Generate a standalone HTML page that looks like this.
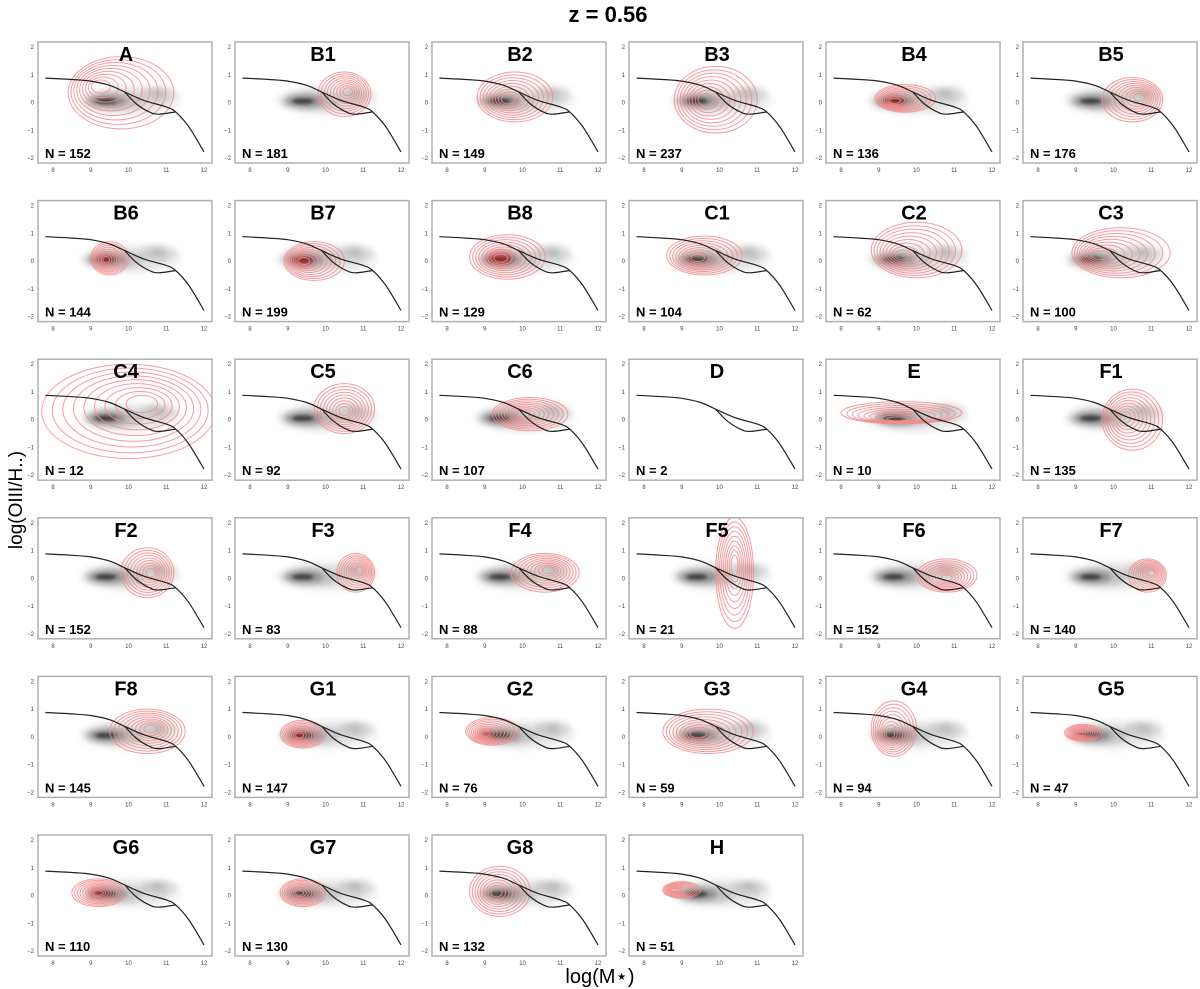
<!DOCTYPE html>
<html><head><meta charset="utf-8">
<style>
html,body{margin:0;padding:0;background:#fff;}
svg{display:block;font-family:"Liberation Sans",Arial,sans-serif;}
</style></head>
<body>
<svg id="chart" width="1200" height="989" viewBox="0 0 1200 989" xmlns="http://www.w3.org/2000/svg">
<defs>
<filter id="blur" x="-50%" y="-50%" width="200%" height="200%"><feGaussianBlur stdDeviation="3"/></filter>
<filter id="blur2" x="-50%" y="-50%" width="200%" height="200%"><feGaussianBlur stdDeviation="1.5"/></filter>
</defs>
<text x="608" y="22" font-size="22" font-weight="bold" text-anchor="middle">z = 0.56</text>
<text x="0" y="0" font-size="19" text-anchor="middle" transform="translate(22,500) rotate(-90)">log(OIII/H..)</text>
<text x="600" y="983" font-size="20" text-anchor="middle">log(M⋆)</text>
<g id="panels"></g>
</svg>
<script>
const labels = ["A","B1","B2","B3","B4","B5","B6","B7","B8","C1","C2","C3","C4","C5","C6","D","E","F1","F2","F3","F4","F5","F6","F7","F8","G1","G2","G3","G4","G5","G6","G7","G8","H"];
const counts = [152,181,149,237,136,176,144,199,129,104,62,100,12,92,107,2,10,135,152,83,88,21,152,140,145,147,76,59,94,47,110,130,132,51];
const outerX = [9.8,10.5,9.8,9.9,9.7,10.5,9.5,9.7,9.6,9.6,10.0,10.2,10.0,10.5,10.2,0,9.6,10.5,10.5,10.8,10.6,10.4,10.8,10.9,10.5,9.4,9.2,9.7,9.4,9.2,9.2,9.4,9.4,9.0];
const outerY = [0.35,0.3,0.2,0.1,0.15,0.1,0.1,0.0,0.15,0.2,0.4,0.3,0.3,0.4,0.2,0,0.25,0.0,0.2,0.2,0.2,0.2,0.1,0.1,0.2,0.1,0.2,0.2,0.3,0.15,0.1,0.1,0.15,0.2];
const outerRX = [1.4,0.7,1.0,1.1,0.8,0.8,0.5,0.8,1.0,1.0,1.2,1.3,2.3,0.8,1.0,0,1.6,0.8,0.7,0.5,0.9,0.5,0.8,0.5,1.0,0.6,0.7,1.2,0.6,0.5,0.7,0.6,0.8,0.5];
const outerRY = [1.3,0.8,0.9,1.2,0.5,0.8,0.6,0.7,0.8,0.7,1.0,0.9,1.7,0.9,0.6,0,0.4,1.1,0.9,0.7,0.7,2.0,0.6,0.6,0.8,0.5,0.5,0.8,1.0,0.3,0.5,0.5,0.9,0.3];
const innerX = [9.2,10.6,9.6,9.6,9.4,10.7,9.4,9.4,9.4,9.4,9.6,9.6,10.4,10.5,10.0,0,9.5,10.3,10.6,10.9,10.7,10.4,10.8,11.0,10.6,9.3,9.0,9.4,9.3,9.1,9.2,9.3,9.3,8.8];
const innerY = [0.6,0.4,0.1,0.1,0.05,0.2,0.05,0.0,0.1,0.1,0.2,0.2,0.6,0.3,0.2,0,0.0,0.1,0.2,0.3,0.3,0.5,0.0,0.2,0.3,0.05,0.1,0.1,0.1,0.1,0.1,0.1,0.1,0.2];
const filled = [0,0,0,0,1,0,1,1,1,0,0,0,0,0,0,0,0,0,0,0,0,0,0,0,0,1,1,0,0,1,1,0,0,1];
const showDensity = [1,1,1,1,1,1,1,1,1,1,1,1,1,1,1,0,1,1,1,1,1,1,1,1,1,1,1,1,1,1,1,1,1,1];
const upperCurve = [[7.8,0.88],[8.5,0.83],[9,0.77],[9.5,0.62],[9.9,0.38],[10.4,0.08],[11,-0.16],[11.25,-0.34],[11.6,-0.88],[12,-1.78]];
const lowerCurve = [[9.9,0.38],[10.2,-0.04],[10.55,-0.34],[10.8,-0.42],[11.25,-0.34]];
const xTicks = [8,9,10,11,12];
const yTicks = [2,1,0,-1,-2];

const NS = "http://www.w3.org/2000/svg";
const root = document.getElementById("panels");
const PW = 174, PH = 121;
function mk(tag, attrs, parent){const e=document.createElementNS(NS,tag);for(const k in attrs)e.setAttribute(k,attrs[k]);parent.appendChild(e);return e;}
function smoothPath(pts, sx, sy){
  const P = pts.map(p=>[sx(p[0]),sy(p[1])]);
  let d = "M"+P[0][0].toFixed(1)+","+P[0][1].toFixed(1);
  for(let i=0;i<P.length-1;i++){
    const p0=P[Math.max(0,i-1)],p1=P[i],p2=P[i+1],p3=P[Math.min(P.length-1,i+2)];
    const c1=[p1[0]+(p2[0]-p0[0])/6,p1[1]+(p2[1]-p0[1])/6];
    const c2=[p2[0]-(p3[0]-p1[0])/6,p2[1]-(p3[1]-p1[1])/6];
    d+=" C"+c1.map(v=>v.toFixed(1))+" "+c2.map(v=>v.toFixed(1))+" "+p2.map(v=>v.toFixed(1));
  }
  return d;
}
labels.forEach((lab,i)=>{
  const col=i%6,row=Math.floor(i/6);
  const x0=38+col*197, y0=42+row*158.6;
  const sx=v=>x0+15+(v-8)*37.75;
  const sy=v=>y0+5+(2-v)*27.75;
  const g=mk("g",{},root);
  
  
  const cid="clip"+i;
  const cp=mk("clipPath",{id:cid},g);
  mk("rect",{x:x0,y:y0,width:PW,height:PH},cp);
  const inner=mk("g",{"clip-path":"url(#"+cid+")"},g);
  if(showDensity[i]){
    const gd=mk("g",{filter:"url(#blur)"},inner);
    
    
    mk("ellipse",{cx:sx(10.05),cy:sy(0.08),rx:1.35*37.75,ry:0.55*27.75,fill:"#000","fill-opacity":0.05},gd);
    mk("ellipse",{cx:sx(10.0),cy:sy(0.08),rx:1.1*37.75,ry:0.42*27.75,fill:"#000","fill-opacity":0.06},gd);
    mk("ellipse",{cx:sx(10.8),cy:sy(0.3),rx:0.5*37.75,ry:0.3*27.75,fill:"#000","fill-opacity":0.1},gd);
    mk("ellipse",{cx:sx(10.8),cy:sy(0.35),rx:0.2*37.75,ry:0.12*27.75,fill:"#000","fill-opacity":0.12},gd);
    mk("ellipse",{cx:sx(9.6),cy:sy(0.05),rx:0.8*37.75,ry:0.32*27.75,fill:"#000","fill-opacity":0.14},gd);
    mk("ellipse",{cx:sx(9.45),cy:sy(0.05),rx:0.5*37.75,ry:0.22*27.75,fill:"#000","fill-opacity":0.28},gd);
    const core=mk("ellipse",{cx:sx(9.4),cy:sy(0.05),rx:0.28*37.75,ry:0.1*27.75,fill:"#000","fill-opacity":0.55,filter:"url(#blur2)"},inner);
  }
  if(outerRX[i]>0){
    const rc=mk("g",{},inner);
    
    
    if(filled[i]){
      mk("ellipse",{cx:sx(innerX[i]),cy:sy(innerY[i]),rx:outerRX[i]*0.35*37.75,ry:outerRY[i]*0.3*27.75,fill:"#d01010","fill-opacity":0.5,filter:"url(#blur)"},rc);
    }
    const n=9;
    for(let k=0;k<n;k++){
      const t=k/n;
      const cx=outerX[i]+(innerX[i]-outerX[i])*t;
      const cy=outerY[i]+(innerY[i]-outerY[i])*t;
      const e=mk("ellipse",{cx:sx(cx),cy:sy(cy),rx:Math.max(1,outerRX[i]*(1-t*0.92)*37.75),ry:Math.max(1,outerRY[i]*(1-t*0.92)*27.75),fill:"none",stroke:"#f48c8c","stroke-width":1,"stroke-opacity":0.85},rc);
      
      
    }
  }
  const up=mk("path",{d:smoothPath(upperCurve,sx,sy),fill:"none",stroke:"#222","stroke-width":1.2},inner);
  
  
  const lo=mk("path",{d:smoothPath(lowerCurve,sx,sy),fill:"none",stroke:"#222","stroke-width":1.2},inner);
  
  
  const fr=mk("rect",{x:x0,y:y0,width:PW,height:PH,fill:"none",stroke:"#b0b0b0","stroke-width":1.5},g);
  
  
  xTicks.forEach(v=>{
    const t=mk("text",{x:sx(v),y:y0+PH+9,"font-size":6,fill:"#444","text-anchor":"middle"},g);
    t.textContent=v;
    
    
  });
  yTicks.forEach(v=>{
    const t=mk("text",{x:x0-4,y:sy(v)+2,"font-size":6,fill:"#444","text-anchor":"end"},g);
    t.textContent=(v<0?"−":"")+Math.abs(v);
    
    
  });
  const tl=mk("text",{x:x0+PW/2+1,y:y0+19,"font-size":20,"font-weight":"bold","text-anchor":"middle"},g);
  tl.textContent=lab;
  
  
  const nl=mk("text",{x:x0+7,y:y0+PH-5,"font-size":13,"font-weight":"bold"},g);
  nl.textContent="N = "+counts[i];
  
  
});
</script>
</body></html>
